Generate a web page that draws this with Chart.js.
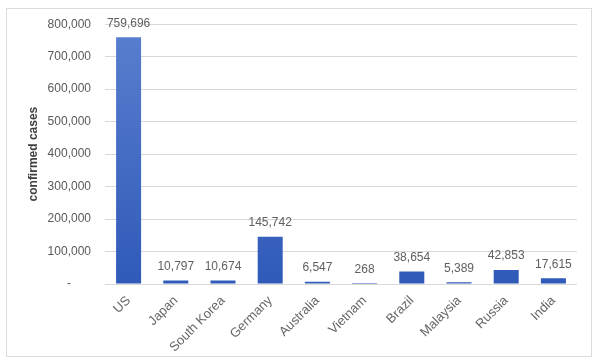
<!DOCTYPE html>
<html>
<head>
<meta charset="utf-8">
<script src="https://cdn.jsdelivr.net/npm/chart.js@4/dist/chart.umd.min.js"></script>
<style>
  html, body { margin: 0; padding: 0; background: #fff; }
  body { width: 600px; height: 364px; position: relative; overflow: hidden; font-family: 'Liberation Sans', Arial, sans-serif; }
  .frame { position: absolute; left: 6px; top: 8px; width: 584px; height: 347px; border: 1px solid #dcdcdc; }
  #chart { position: absolute; left: 7px; top: 3px; display: block; }
</style>
</head>
<body>
<div class="frame"></div>
<canvas id="chart" width="584" height="353"></canvas>
<script>
// --- DATA ---
const countries = ['US','Japan','South Korea','Germany','Australia','Vietnam','Brazil','Malaysia','Russia','India'];
const confirmed = [759696, 10797, 10674, 145742, 6547, 268, 38654, 5389, 42853, 17615];
const yTicks = [0, 100000, 200000, 300000, 400000, 500000, 600000, 700000, 800000];

const fmt = v => v.toLocaleString('en-US');
const textColor = '#595959';
const fontFamily = '"Liberation Sans", Arial, sans-serif';

// value labels drawn above each bar
const barLabels = {
  id: 'barLabels',
  afterDatasetsDraw(chart) {
    const ctx = chart.ctx;
    const meta = chart.getDatasetMeta(0);
    ctx.save();
    ctx.font = '12px ' + fontFamily;
    ctx.fillStyle = '#5f5f5f';
    ctx.textAlign = 'center';
    ctx.textBaseline = 'bottom';
    meta.data.forEach((bar, i) => {
      ctx.fillText(fmt(confirmed[i]), bar.x, bar.y - 8);
    });
    ctx.restore();
  }
};

const barFill = (c) => {
  const area = c.chart.chartArea;
  if (!area) return '#3d66c2';
  const g = c.chart.ctx.createLinearGradient(0, area.top, 0, area.bottom);
  g.addColorStop(0, '#5a7fcf');
  g.addColorStop(1, '#2f5ab8');
  return g;
};

new Chart(document.getElementById('chart'), {
  type: 'bar',
  data: {
    labels: countries,
    datasets: [{ data: confirmed, backgroundColor: barFill, borderWidth: 0, categoryPercentage: 1, barPercentage: 0.53 }]
  },
  options: {
    responsive: false, animation: false,
    layout: { padding: { left: 0, right: 14, top: 8, bottom: 0 } },
    plugins: { legend: { display: false }, tooltip: { enabled: false } },
    scales: {
      x: {
        grid: { display: false, drawTicks: false },
        border: { display: false },
        ticks: { color: '#666', font: { size: 13, family: fontFamily }, minRotation: 45, maxRotation: 45, padding: 9 },
        afterFit: s => { s.height = 72; }
      },
      y: {
        min: 0, max: 800000,
        afterBuildTicks: s => { s.ticks = yTicks.map(v => ({ value: v })); },
        grid: { color: '#d9d9d9', drawTicks: false },
        border: { display: false },
        ticks: {
          color: textColor, padding: 14,
          font: { size: 12, family: fontFamily },
          callback: v => v === 0 ? '-      ' : fmt(v)
        },
        title: { display: true, text: 'confirmed cases', color: '#404040', font: { size: 12, weight: 'bold', family: fontFamily }, padding: { top: 19, bottom: 0 } },
        afterFit: s => { s.width = 98; }
      }
    }
  },
  plugins: [barLabels]
});
</script>
</body>
</html>
